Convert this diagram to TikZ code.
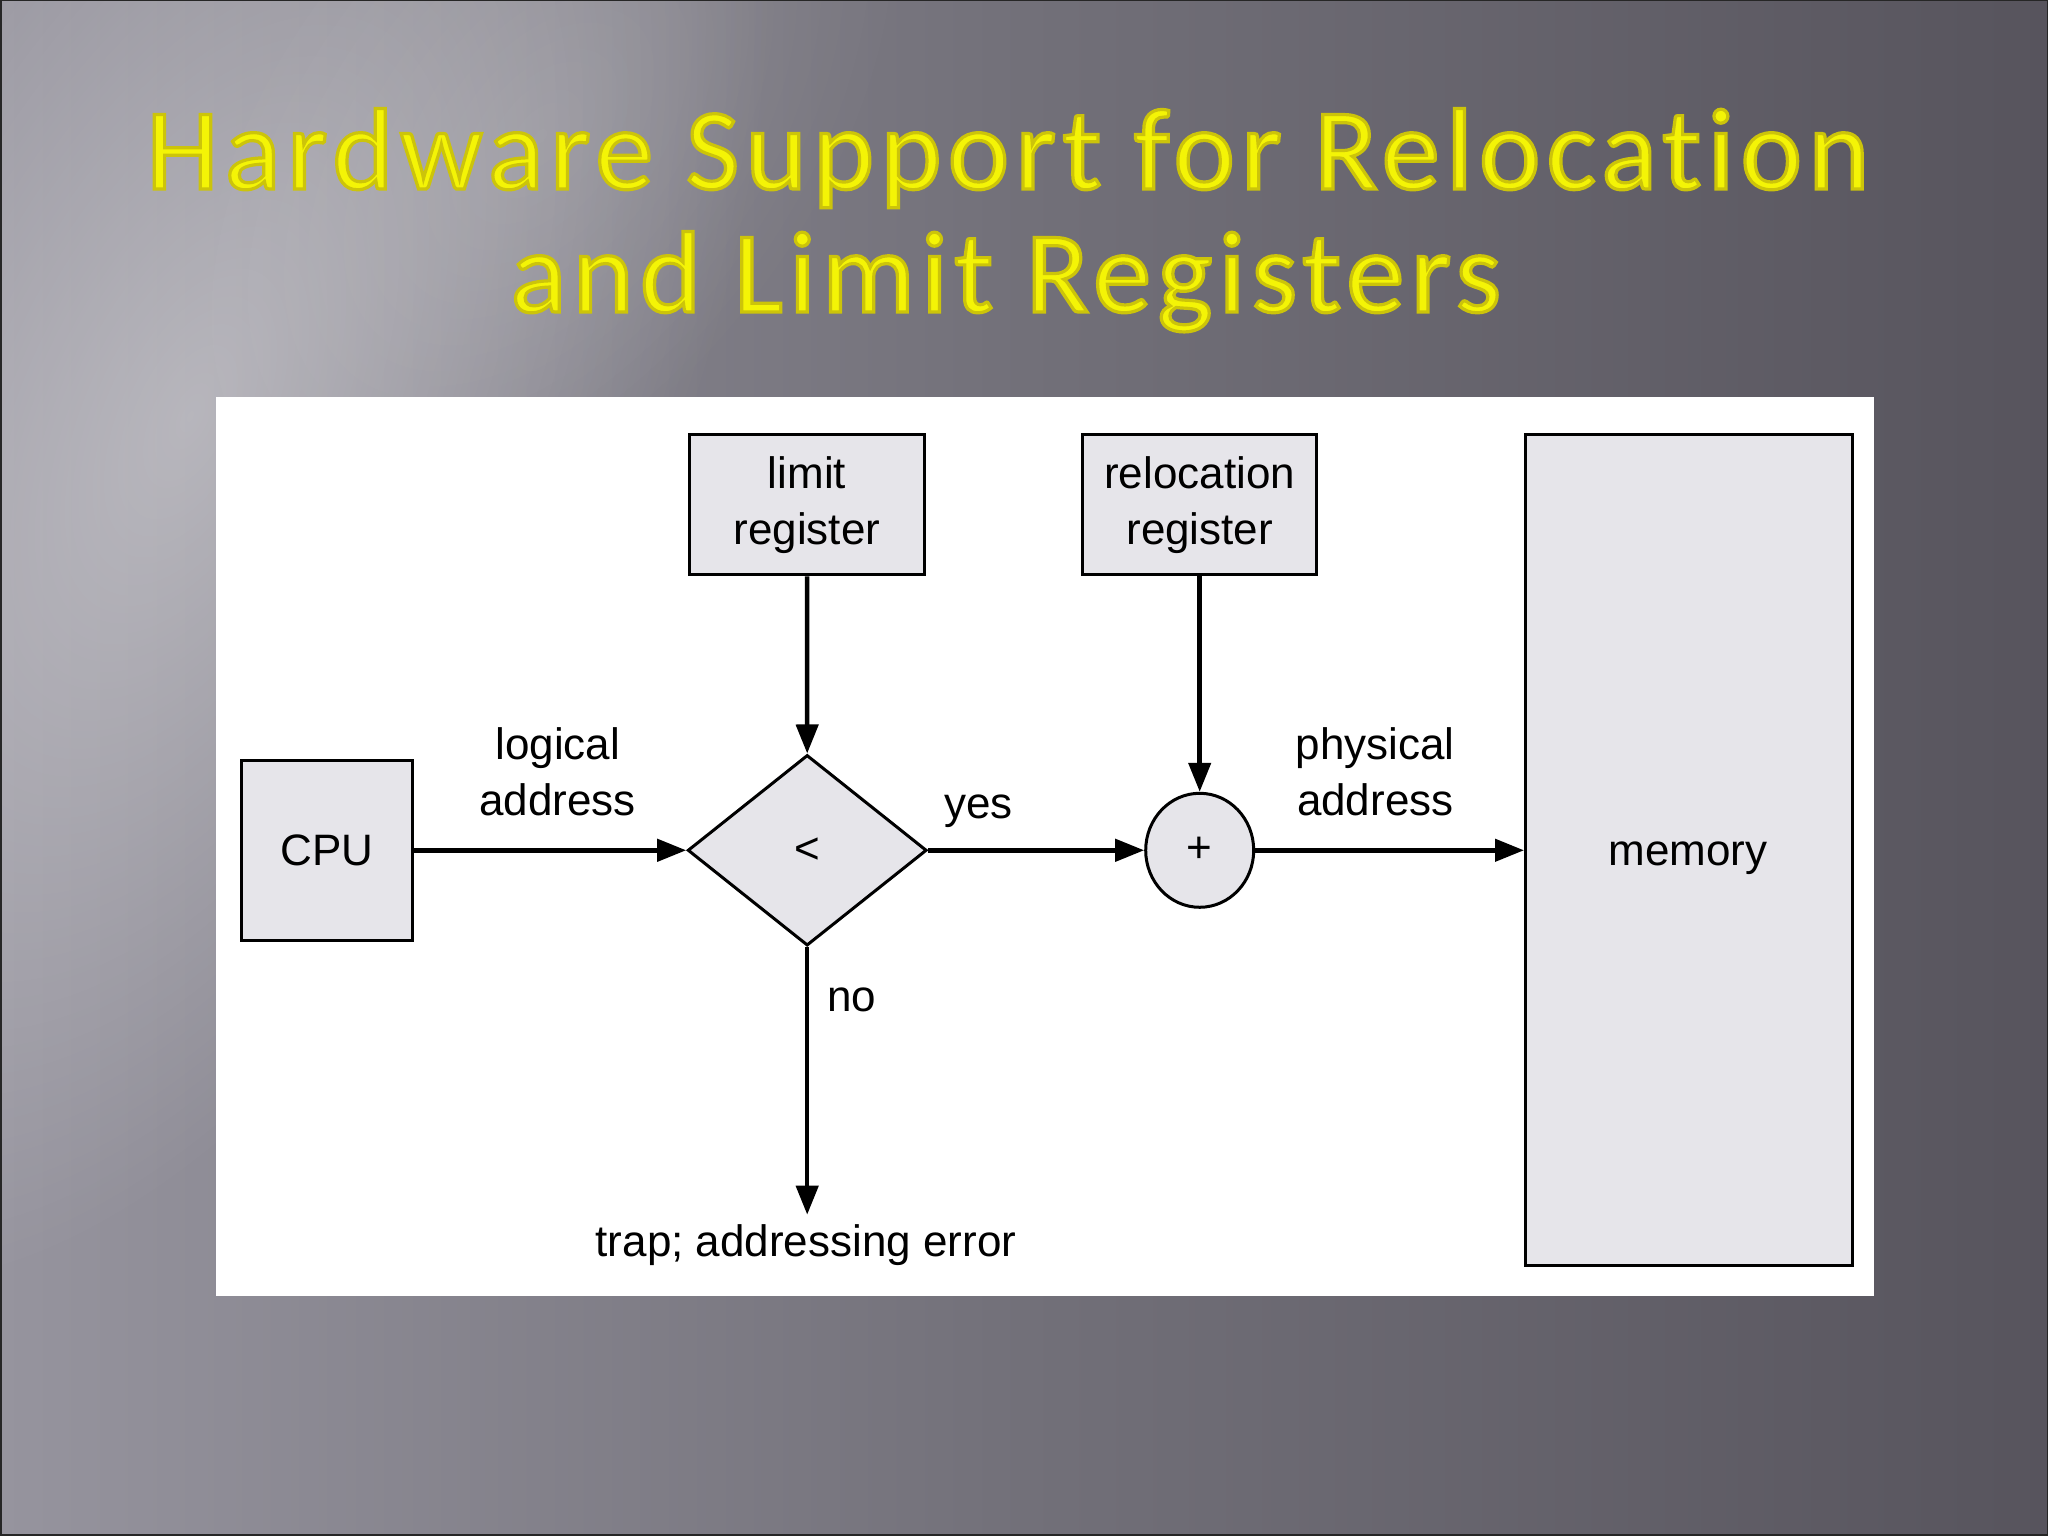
\documentclass[tikz,border=0pt]{standalone}
\usepackage{fontspec}
\setmainfont{Liberation Sans}
\newfontfamily\titlefont[LetterSpace=5.6,Ligatures=NoCommon]{Carlito}
\usetikzlibrary{arrows.meta,shapes.geometric,fadings}
\definecolor{boxfill}{RGB}{230,229,234}
\definecolor{titleyellow}{RGB}{244,244,6}
\definecolor{bgL}{RGB}{150,148,158}
\definecolor{bgM}{RGB}{114,112,121}
\definecolor{bgR}{RGB}{87,84,93}
\tikzfading[name=glow, inner color=transparent!0, outer color=transparent!100]
\tikzfading[name=softband, left color=transparent!100, middle color=transparent!0, right color=transparent!100]
\newcommand{\beveltext}[1]{\special{pdf:code q 2 Tr 3.2 w 0.80 0.77 0.04 RG}#1\special{pdf:code 0 Tr Q}}
\tikzset{
  blk/.style={draw=black, line width=3pt, fill=boxfill, inner sep=0pt, align=center, font=\fontsize{44}{56}\selectfont},
  lbl/.style={align=center, inner sep=0pt, font=\fontsize{44}{56}\selectfont},
  conn/.style={line width=4.5pt, -{Triangle[length=29pt,width=22pt]}},
  ttl/.style={anchor=base, inner sep=0pt, text=titleyellow, font=\titlefont\fontsize{116}{123}\selectfont}
}
\begin{document}
\begin{tikzpicture}[x=1pt,y=1pt]
\useasboundingbox (0,0) rectangle (2048,1536);
% background
\shade[left color=bgL, right color=bgR, middle color=bgM] (0,0) rectangle (2048,1536);
\begin{scope}[transform canvas={shift={(190,1120)},rotate=-25}]
  \fill[white, opacity=0.36, path fading=glow] (0,0) ellipse [x radius=470, y radius=950];
\end{scope}
\begin{scope}[transform canvas={shift={(540,1400)},rotate=-38}]
  \fill[white, opacity=0.12, path fading=glow] (0,0) ellipse [x radius=280, y radius=480];
\end{scope}
\begin{scope}[transform canvas={shift={(330,160)},rotate=28}]
  \fill[white, opacity=0.14, path fading=softband] (-40,-260) rectangle (40,260);
\end{scope}
\begin{scope}[transform canvas={shift={(760,170)},rotate=32}]
  \fill[white, opacity=0.12, path fading=softband] (-45,-260) rectangle (45,260);
\end{scope}
\begin{scope}[transform canvas={shift={(1150,150)},rotate=25}]
  \fill[white, opacity=0.05, path fading=softband] (-60,-220) rectangle (60,220);
\end{scope}
\draw[black!85, line width=3pt] (0,0) rectangle (2048,1536);
% title
\node[ttl] (t1) at (1008,1347) {\beveltext{Hardware Support for Relocation}};
\node[ttl] (t2) at (1006,1224) {\beveltext{and Limit Registers}};
% panel
\fill[white] (215.5,240.4) rectangle (1874.2,1139);
% nodes
\node[blk, minimum width=171pt, minimum height=180pt] (cpu) at (327,685.7) {CPU};
\node[blk, minimum width=235pt, minimum height=140pt] (limit) at (807,1031.2) {limit\\register};
\node[blk, minimum width=234pt, minimum height=140pt] (reloc) at (1199.7,1031.2) {relocation\\register};
\node[blk, minimum width=326.6pt, minimum height=830.7pt] (mem) at (1688.8,685.7) {};
\node[lbl] (memlbl) at (1688,678) {memory};
\node[blk, diamond, minimum width=239pt, minimum height=190.6pt] (cmp) at (807.2,685.7) {<};
\node[blk, ellipse, minimum width=108pt, minimum height=114pt] (add) at (1199.7,685.7) {+};
\coordinate (trap) at (807.2,321.3);
\node[lbl] (traplbl) at (806,291) {trap; addressing error};
% connectors
\draw[conn] (cpu.east) -- (cmp.west);
\draw[conn] (limit.south) -- (cmp.north);
\draw[conn] (cmp.east) -- (add.west);
\draw[conn] (reloc.south) -- (add.north);
\draw[conn] (add.east) -- (mem.west);
\draw[conn] (cmp.south) -- (trap);
% labels
\node[lbl] (la) at (557.7,764) {logical\\address};
\node[lbl] (pa) at (1375.3,764) {physical\\address};
\node[lbl] (yes) at (978.3,725) {yes};
\node[lbl] (no) at (851.6,536) {no};
\end{tikzpicture}
\end{document}
